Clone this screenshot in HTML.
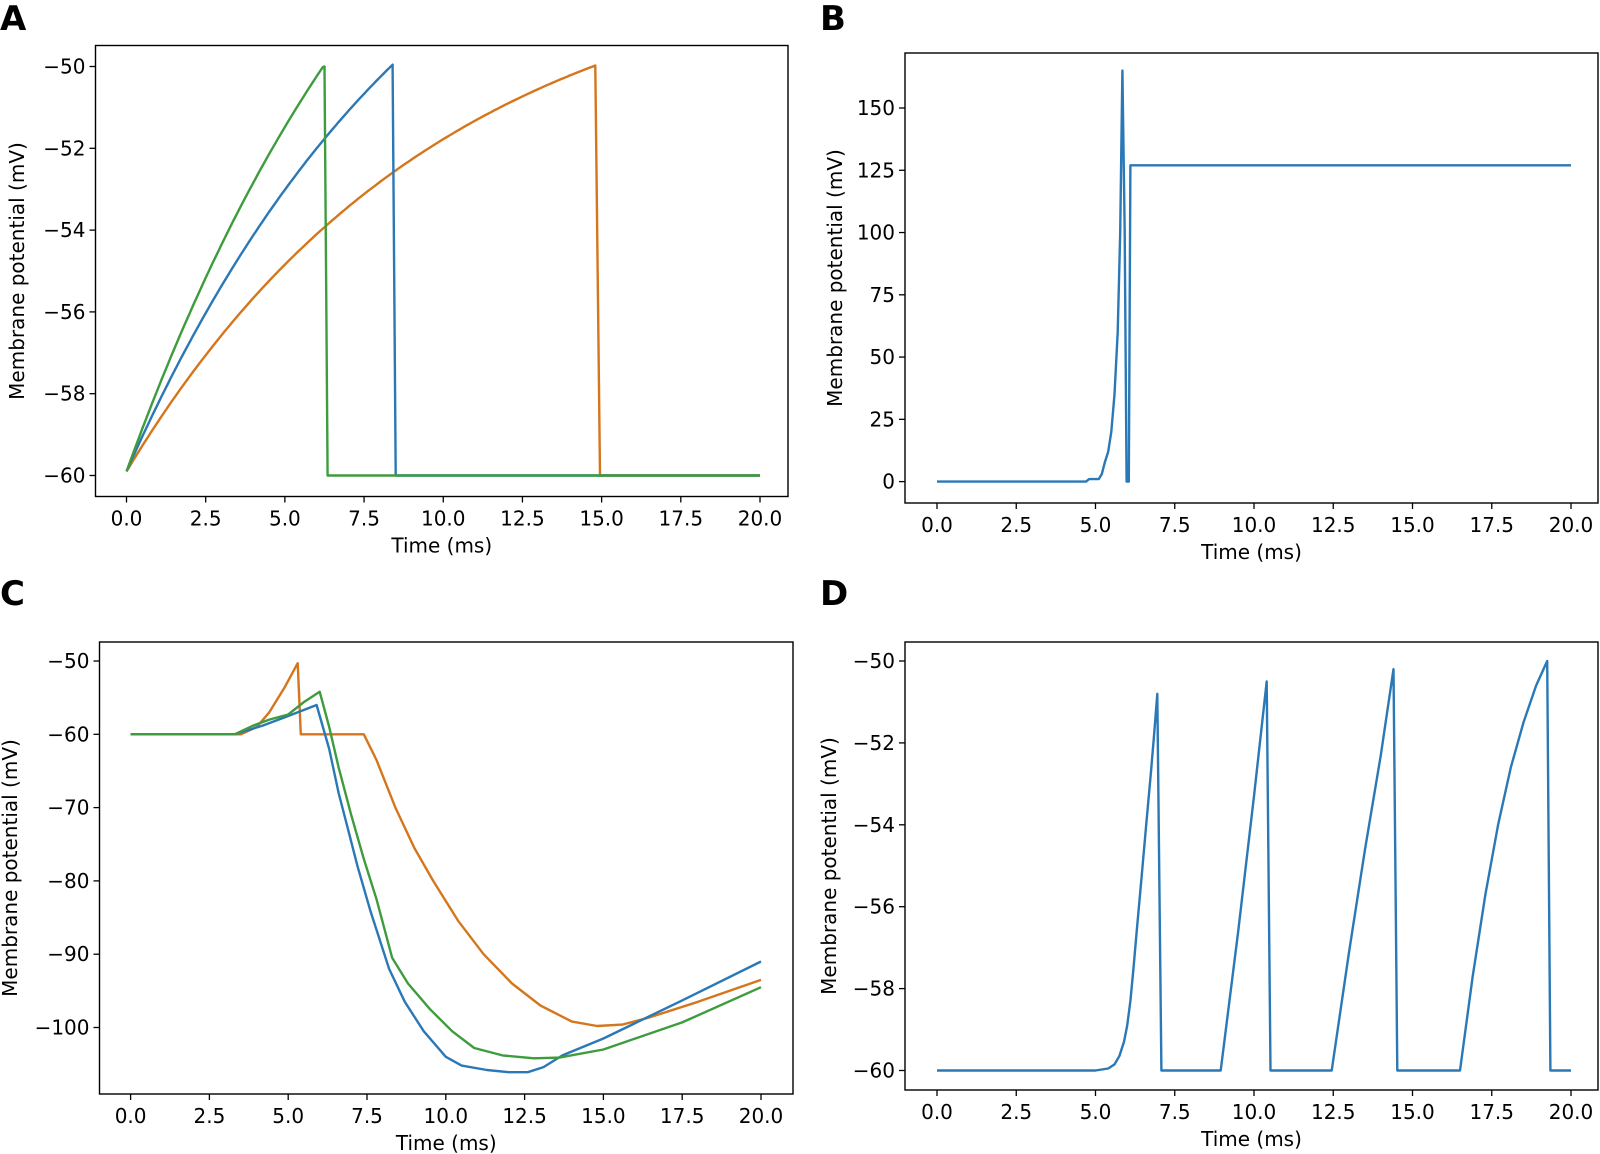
<!DOCTYPE html>
<html><head><meta charset="utf-8"><style>
html,body{margin:0;padding:0;background:#fff;}
svg{display:block;}
text{font-family:"DejaVu Sans","Liberation Sans",sans-serif;fill:#000;}
.t{font-size:20px;}
.L{font-size:34px;font-weight:bold;}
</style></head><body>
<svg id="s" width="1600" height="1154" viewBox="0 0 1600 1154" xmlns="http://www.w3.org/2000/svg">
<text class="L" x="0" y="30">A</text>
<text class="L" x="820" y="30">B</text>
<text class="L" x="0" y="605">C</text>
<text class="L" x="820" y="605">D</text>
</svg>
<script>
const S=document.getElementById('s');const NS='http://www.w3.org/2000/svg';
function el(t,a,txt){const e=document.createElementNS(NS,t);for(const k in a)e.setAttribute(k,a[k]);if(txt!==undefined)e.textContent=txt;S.appendChild(e);return e;}
function panel(p){
 const X=t=>p.x0+(p.x20-p.x0)*t/20, Y=v=>p.ya+(p.yb-p.ya)*(v-p.va)/(p.vb-p.va);
 p.X=X;p.Y=Y;
 for(let i=0;i<=8;i++){const t=i*2.5,x=X(t);el('line',{x1:x,x2:x,y1:p.bot,y2:p.bot+6,stroke:'#000','stroke-width':1.3});
  el('text',{class:'t',x:x,y:p.bot+29,'text-anchor':'middle'},t.toFixed(1));}
 for(const v of p.yt){const y=Y(v);el('line',{x1:p.left-6,x2:p.left,y1:y,y2:y,stroke:'#000','stroke-width':1.3});
  el('text',{class:'t',x:p.left-10,y:y+7,'text-anchor':'end'},v<0?'\u2212'+(-v):String(v));}
 el('text',{class:'t',x:(p.left+p.right)/2,y:p.bot+56,'text-anchor':'middle'},'Time (ms)');
 el('text',{class:'t',x:0,y:0,'text-anchor':'middle',transform:`translate(${p.yl},${(p.top+p.bot)/2}) rotate(-90)`},'Membrane potential (mV)');
 return p;}
function line(p,pts,c){el('polyline',{points:pts.map(q=>p.X(q[0]).toFixed(1)+','+p.Y(q[1]).toFixed(1)).join(' '),fill:'none',stroke:c,'stroke-width':2.4,'stroke-linejoin':'round'});}
function frame(p){el('rect',{x:p.left,y:p.top,width:p.right-p.left,height:p.bot-p.top,fill:'none',stroke:'#000','stroke-width':1.4});}
const B='#2a78b6',O='#d5761c',G='#3e9c3e';
const A=panel({left:95.5,right:788,top:45.5,bot:496.5,x0:126.5,x20:760,ya:66.5,va:-50,yb:475.5,vb:-60,yt:[-50,-52,-54,-56,-58,-60],yl:24});
function expo(vinf,tend,tdrop){const a=[];for(let t=0;t<=tend+1e-9;t+=0.1){a.push([t,vinf-(vinf+59.9)*Math.exp(-t/10)]);}a.push([tend,-50]);a.push([tdrop,-60]);a.push([20,-60]);return a;}
line(A,expo(-47.05,14.8,14.95),O);line(A,expo(-42.4,8.4,8.5),B);line(A,expo(-38.5,6.25,6.35),G);
frame(A);
const Bp=panel({left:905,right:1598,top:53,bot:503,x0:937,x20:1571,ya:481.6,va:0,yb:108,vb:150,yt:[0,25,50,75,100,125,150],yl:842});
line(Bp,[[0,0],[4.7,0],[4.8,1],[5.1,1],[5.2,3],[5.3,8],[5.4,12],[5.5,20],[5.6,35],[5.7,60],[5.78,100],[5.85,165],[5.92,100],[5.98,0],[6.05,0],[6.1,127],[20,127]],B);
frame(Bp);
const C=panel({left:99.5,right:793,top:642,bot:1094,x0:130.6,x20:761,ya:661,va:-50,yb:734.3,vb:-60,yt:[-50,-60,-70,-80,-90,-100],yl:17});
line(C,[[0,-60],[3.5,-60],[4.0,-59],[4.4,-57],[4.9,-53.5],[5.3,-50.3],[5.4,-60],[7.4,-60],[7.8,-63.5],[8.4,-70],[9.0,-75.5],[9.6,-80],[10.4,-85.5],[11.2,-90],[12.1,-94],[13.0,-97],[14.0,-99.2],[14.8,-99.8],[15.6,-99.6],[16.4,-98.7],[18,-96.5],[20,-93.5]],O);
line(C,[[0,-60],[3.3,-60],[4.2,-58.8],[5.0,-57.5],[5.9,-56],[6.3,-62],[6.6,-68],[6.9,-73],[7.2,-78],[7.6,-84],[8.2,-92],[8.7,-96.5],[9.3,-100.5],[10.0,-104],[10.5,-105.2],[11.3,-105.8],[12.0,-106.1],[12.6,-106.1],[13.1,-105.4],[13.7,-103.8],[15,-101.5],[17.5,-96.3],[20,-91]],B);
line(C,[[0,-60],[3.3,-60],[3.9,-58.8],[4.4,-58],[5.0,-57.3],[5.5,-55.6],[6.0,-54.2],[6.3,-59],[6.6,-64.5],[7.0,-71],[7.4,-77],[7.8,-82.5],[8.3,-90.5],[8.8,-94],[9.5,-97.5],[10.2,-100.5],[10.9,-102.8],[11.8,-103.8],[12.8,-104.2],[13.6,-104.1],[15,-103],[17.5,-99.3],[20,-94.5]],G);
frame(C);
const D=panel({left:905,right:1598,top:642,bot:1090,x0:937,x20:1571,ya:661,va:-50,yb:1070.5,vb:-60,yt:[-50,-52,-54,-56,-58,-60],yl:836});
line(D,[[0,-60],[5,-60],[5.4,-59.95],[5.6,-59.85],[5.75,-59.65],[5.9,-59.3],[6.0,-58.9],[6.1,-58.3],[6.2,-57.5],[6.3,-56.6],[6.45,-55.3],[6.6,-54],[6.75,-52.7],[6.85,-51.8],[6.95,-50.8],[7.08,-60],[8.95,-60],[9.5,-56.6],[10.0,-53.3],[10.4,-50.5],[10.52,-60],[12.45,-60],[13.0,-57.1],[13.5,-54.6],[14.0,-52.3],[14.4,-50.2],[14.52,-60],[16.5,-60],[16.9,-57.7],[17.3,-55.7],[17.7,-54],[18.1,-52.6],[18.5,-51.5],[18.9,-50.6],[19.25,-50],[19.35,-60],[20,-60]],B);
frame(D);
</script>
</body></html>
